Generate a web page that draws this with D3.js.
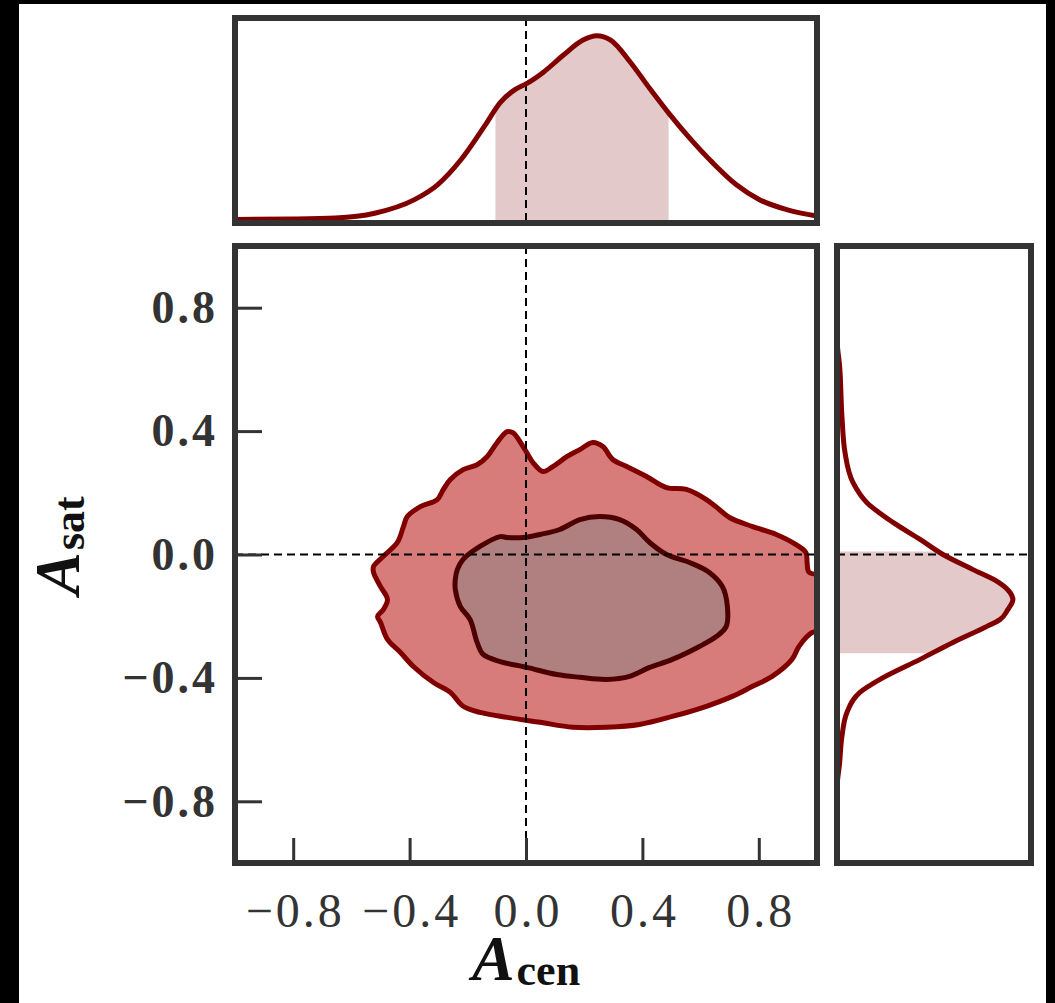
<!DOCTYPE html>
<html>
<head>
<meta charset="utf-8">
<script src="https://cdn.jsdelivr.net/npm/d3@7"></script>
<style>
  html, body { margin: 0; padding: 0; background: #000; }
  svg { display: block; }
</style>
</head>
<body>
<svg id="chart" width="1055" height="1003"></svg>
<script>
// ---------------- data ----------------
const xTicks = [-0.8, -0.4, 0.0, 0.4, 0.8];
const yTicks = [-0.8, -0.4, 0.0, 0.4, 0.8];

// outer (95%) contour of A_cen vs A_sat
const outerX = [-0.524,-0.490,-0.442,-0.421,-0.408,-0.363,-0.305,-0.284,-0.260,-0.216,-0.168,-0.134,-0.099,-0.065,-0.045,-0.010,0.024,0.058,0.092,0.140,0.185,0.229,0.264,0.298,0.346,0.414,0.483,0.551,0.620,0.664,0.699,0.777,0.860,0.928,0.962,0.966,0.973,1.040,1.040,0.983,0.938,0.914,0.846,0.777,0.709,0.620,0.503,0.390,0.277,0.161,0.048,-0.065,-0.158,-0.216,-0.260,-0.318,-0.387,-0.432,-0.476,-0.500,-0.510,-0.490,-0.476,-0.500,-0.524];
const outerY = [-0.039,-0.006,0.039,0.091,0.123,0.155,0.178,0.211,0.243,0.275,0.291,0.317,0.363,0.398,0.395,0.350,0.298,0.269,0.285,0.317,0.340,0.363,0.350,0.308,0.285,0.253,0.217,0.211,0.178,0.146,0.120,0.091,0.065,0.032,0.006,-0.026,-0.058,-0.075,-0.245,-0.253,-0.298,-0.340,-0.395,-0.428,-0.460,-0.492,-0.525,-0.551,-0.560,-0.560,-0.544,-0.528,-0.512,-0.492,-0.447,-0.415,-0.363,-0.317,-0.275,-0.220,-0.201,-0.178,-0.146,-0.104,-0.058];

// inner (68%) contour
const innerX = [-0.236,-0.216,-0.158,-0.089,-0.065,-0.010,0.048,0.116,0.185,0.253,0.322,0.380,0.425,0.483,0.562,0.630,0.675,0.692,0.688,0.654,0.596,0.503,0.425,0.356,0.277,0.185,0.106,0.003,-0.089,-0.147,-0.168,-0.192,-0.226,-0.243,-0.243];
const innerY = [-0.049,-0.016,0.026,0.058,0.055,0.055,0.065,0.081,0.113,0.123,0.113,0.081,0.039,0.000,-0.026,-0.058,-0.104,-0.168,-0.233,-0.266,-0.298,-0.340,-0.366,-0.395,-0.405,-0.398,-0.389,-0.366,-0.347,-0.324,-0.285,-0.211,-0.168,-0.113,-0.081];

// marginal of A_cen (relative density)
const cenGrid    = [-1.0,-0.8,-0.655,-0.52,-0.385,-0.304,-0.223,-0.142,-0.088,-0.034,0.0,0.06,0.128,0.196,0.243,0.291,0.358,0.426,0.493,0.561,0.642,0.723,0.804,0.899,1.0];
const cenDensity = [0.003,0.005,0.010,0.034,0.101,0.177,0.304,0.473,0.591,0.659,0.684,0.743,0.828,0.904,0.926,0.904,0.794,0.659,0.532,0.414,0.287,0.177,0.101,0.051,0.020];
const cenShade = [-0.105, 0.49];

// marginal of A_sat (relative density)
const satGrid    = [1.0,0.70,0.609,0.447,0.330,0.233,0.168,0.104,0.049,0.0,-0.049,-0.087,-0.123,-0.146,-0.178,-0.211,-0.233,-0.285,-0.340,-0.405,-0.447,-0.512,-0.589,-0.674,-0.76,-1.0];
const satDensity = [0.0,0.0,0.014,0.026,0.042,0.084,0.157,0.293,0.435,0.555,0.712,0.838,0.906,0.921,0.895,0.853,0.785,0.607,0.435,0.225,0.120,0.052,0.026,0.014,0.0,0.0];
const satShade = [-0.32, 0.01];

// ---------------- layout ----------------
const svg = d3.select('#chart');
const frameColor = '#333333';
const lineRed = '#800000';
const shadeCol = '#e3c9ca';

svg.append('rect').attr('x',0).attr('y',0).attr('width',1055).attr('height',1003).attr('fill','#000');
svg.append('rect').attr('x',19).attr('y',4).attr('width',1027).attr('height',999).attr('fill','#fff');

const M = {L:235, R:817, T:246, B:863};
const TP = {T:18, B:223};
const RP = {L:837, R:1031};

const x = d3.scaleLinear().domain([-1,1]).range([M.L, M.R]);
const y = d3.scaleLinear().domain([-1,1]).range([M.B, M.T]);
const dTop = d3.scaleLinear().domain([0,1]).range([TP.B-3, TP.T+3]);
const dRight = d3.scaleLinear().domain([0,1]).range([RP.L, RP.R-3]);

const defs = svg.append('defs');
defs.append('clipPath').attr('id','clipMain').append('rect')
  .attr('x',M.L).attr('y',M.T).attr('width',M.R-M.L).attr('height',M.B-M.T);
defs.append('clipPath').attr('id','clipTop').append('rect')
  .attr('x',M.L).attr('y',TP.T).attr('width',M.R-M.L).attr('height',TP.B-TP.T);
defs.append('clipPath').attr('id','clipRight').append('rect')
  .attr('x',RP.L).attr('y',M.T).attr('width',RP.R-RP.L).attr('height',M.B-M.T);
defs.append('clipPath').attr('id','clipTopShade').append('rect')
  .attr('x',x(cenShade[0])).attr('y',TP.T).attr('width',x(cenShade[1])-x(cenShade[0])).attr('height',TP.B-TP.T);
defs.append('clipPath').attr('id','clipRightShade').append('rect')
  .attr('x',RP.L).attr('y',y(satShade[1])).attr('width',RP.R-RP.L).attr('height',y(satShade[0])-y(satShade[1]));

const dash = '8,5';

// ---------------- main panel ----------------
const gMain = svg.append('g').attr('clip-path','url(#clipMain)');
const contourLine = d3.line().x(d=>x(d[0])).y(d=>y(d[1])).curve(d3.curveCatmullRomClosed.alpha(0.5));
const outerPts = outerX.map((v,i)=>[v, outerY[i]]);
const innerPts = innerX.map((v,i)=>[v, innerY[i]]);
gMain.append('path').attr('d', contourLine(outerPts))
  .attr('fill','#d77b7b').attr('stroke',lineRed).attr('stroke-width',5).attr('stroke-linejoin','round');
gMain.append('path').attr('d', contourLine(innerPts))
  .attr('fill','#b07f7f').attr('stroke','#4d0000').attr('stroke-width',5).attr('stroke-linejoin','round');
gMain.append('line').attr('x1',x(0)).attr('x2',x(0)).attr('y1',M.T).attr('y2',M.B)
  .attr('stroke','#000').attr('stroke-width',2).attr('stroke-dasharray',dash);
gMain.append('line').attr('x1',M.L).attr('x2',M.R).attr('y1',y(0)).attr('y2',y(0))
  .attr('stroke','#000').attr('stroke-width',2).attr('stroke-dasharray',dash);

// axes
const fmt = d3.format('.1f');
const gy = svg.append('g').attr('transform',`translate(${M.L},0)`)
  .call(d3.axisLeft(y).tickValues(yTicks).tickFormat(fmt).tickSizeInner(-27).tickSizeOuter(0).tickPadding(17));
const gx = svg.append('g').attr('transform',`translate(0,${M.B})`)
  .call(d3.axisBottom(x).tickValues(xTicks).tickFormat(fmt).tickSizeInner(-25).tickSizeOuter(0).tickPadding(30));
[gx, gy].forEach(g => {
  g.select('.domain').remove();
  g.selectAll('.tick line').attr('stroke',frameColor).attr('stroke-width',3);
  g.selectAll('.tick text').attr('fill','#333').attr('font-family','"Liberation Serif", serif');
});
gy.selectAll('.tick text').attr('font-weight','bold').attr('font-size',46).attr('letter-spacing','3px');
gx.selectAll('.tick text').attr('font-size',48).attr('letter-spacing','3px').attr('dx','1.5px');

// ---------------- top marginal ----------------
const cenPts = cenGrid.map((v,i)=>[v, cenDensity[i]]);
const topArea = d3.area().x(d=>x(d[0])).y0(dTop(0)).y1(d=>dTop(d[1])).curve(d3.curveMonotoneX);
const topLine = d3.line().x(d=>x(d[0])).y(d=>dTop(d[1])).curve(d3.curveMonotoneX);
const gTop = svg.append('g').attr('clip-path','url(#clipTop)');
gTop.append('g').attr('clip-path','url(#clipTopShade)')
  .append('path').attr('d', topArea(cenPts)).attr('fill',shadeCol);
gTop.append('line').attr('x1',x(0)).attr('x2',x(0)).attr('y1',TP.T).attr('y2',TP.B)
  .attr('stroke','#000').attr('stroke-width',2).attr('stroke-dasharray',dash);
gTop.append('path').attr('d', topLine(cenPts)).attr('fill','none').attr('stroke',lineRed).attr('stroke-width',5);

// ---------------- right marginal ----------------
const satPts = satGrid.map((v,i)=>[v, satDensity[i]]);
const rightArea = d3.area().y(d=>y(d[0])).x0(dRight(0)).x1(d=>dRight(d[1])).curve(d3.curveMonotoneY);
const rightLine = d3.line().y(d=>y(d[0])).x(d=>dRight(d[1])).curve(d3.curveMonotoneY);
const gRight = svg.append('g').attr('clip-path','url(#clipRight)');
gRight.append('g').attr('clip-path','url(#clipRightShade)')
  .append('path').attr('d', rightArea(satPts)).attr('fill',shadeCol);
gRight.append('line').attr('x1',RP.L).attr('x2',RP.R).attr('y1',y(0)).attr('y2',y(0))
  .attr('stroke','#000').attr('stroke-width',2).attr('stroke-dasharray',dash);
gRight.append('path').attr('d', rightLine(satPts)).attr('fill','none').attr('stroke',lineRed).attr('stroke-width',5);

// ---------------- frames ----------------
const frames = [
  {x0:M.L, x1:M.R, y0:M.T, y1:M.B},
  {x0:M.L, x1:M.R, y0:TP.T, y1:TP.B},
  {x0:RP.L, x1:RP.R, y0:M.T, y1:M.B}
];
svg.selectAll('rect.frame').data(frames).join('rect').attr('class','frame')
  .attr('x',d=>d.x0).attr('y',d=>d.y0).attr('width',d=>d.x1-d.x0).attr('height',d=>d.y1-d.y0)
  .attr('fill','none').attr('stroke',frameColor).attr('stroke-width',6);

// ---------------- axis labels ----------------
const xl = svg.append('text').attr('x', x(0)).attr('y', 980).attr('text-anchor','middle')
  .attr('font-family','"Liberation Serif", serif').attr('fill','#111');
xl.append('tspan').attr('font-style','italic').attr('font-weight','bold').attr('font-size',64).text('A');
xl.append('tspan').attr('font-weight','bold').attr('font-size',44).attr('dy',5).attr('dx',2).text('cen');

const yl = svg.append('text').attr('transform',`translate(79,${y(0)-9}) rotate(-90)`).attr('text-anchor','middle')
  .attr('font-family','"Liberation Serif", serif').attr('fill','#111');
yl.append('tspan').attr('font-style','italic').attr('font-weight','bold').attr('font-size',64).text('A');
yl.append('tspan').attr('font-weight','bold').attr('font-size',44).attr('dy',5).attr('dx',2).text('sat');
</script>
</body>
</html>
